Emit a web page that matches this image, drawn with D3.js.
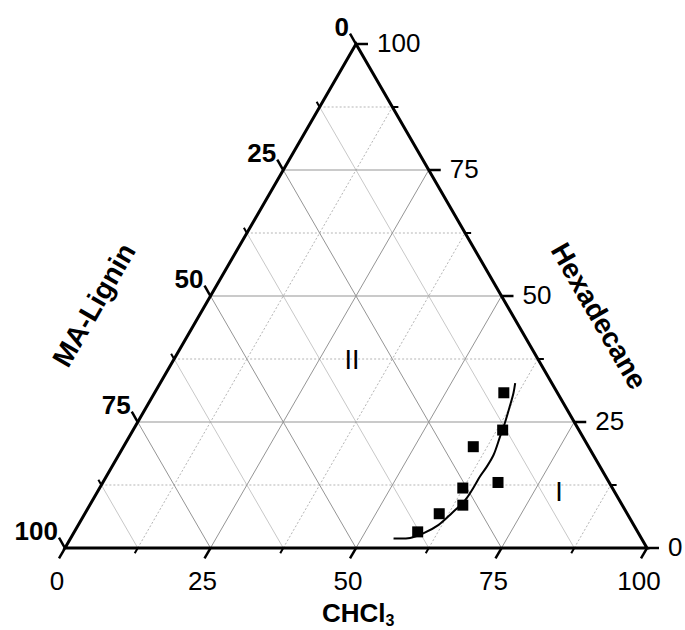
<!DOCTYPE html>
<html>
<head>
<meta charset="utf-8">
<script src="https://cdn.jsdelivr.net/npm/d3@7"></script>
<style>
  body { margin: 0; background: #fff; }
  svg { display: block; font-family: "Liberation Sans", Arial, sans-serif; }
</style>
</head>
<body>
<script>
// ternary axes: CHCl3 (bottom), Hexadecane (right), MA-Lignin (left)
const majorTicks = [0, 25, 50, 75, 100];
const minorTicks = [12.5, 37.5, 62.5, 87.5];
const gridMajor = [25, 50, 75];

// measured tie-line / cloud points (wt %)
const sampleCHCl3 = [60.0, 63.5, 60.1, 67.9, 62.4, 64.1, 60.9, 59.0];
const sampleHexadecane = [30.8, 23.4, 20.1, 13.0, 11.9, 8.5, 6.8, 3.2];

// binodal curve
const binodalCHCl3 = [55.5, 58.3, 60.1, 61.9, 63.0, 64.0, 64.2, 64.2, 64.4, 64.4, 63.7, 63.2, 62.4, 61.7, 61.0];
const binodalHexadecane = [1.9, 2.0, 2.9, 4.6, 6.9, 9.5, 12.5, 14.2, 16.1, 18.5, 22.1, 24.7, 28.0, 30.7, 32.7];

const width = 685, height = 630;

const svg = d3.select("body").append("svg")
    .attr("width", width)
    .attr("height", height);

// horizontal position uses a + b/2, vertical uses b
const px = d3.scaleLinear().domain([0, 100]).range([65, 647]);
const py = d3.scaleLinear().domain([0, 100]).range([548, 44]);
const pos = (a, b) => [px(a + b / 2), py(b)];

const grid = svg.append("g").attr("class", "grid");

function gridLine(p1, p2, cls){
    const l = grid.append("line")
        .attr("x1", p1[0]).attr("y1", p1[1])
        .attr("x2", p2[0]).attr("y2", p2[1]);
    if (cls == "major") l.attr("stroke", "#959595").attr("stroke-width", 1);
    else if (cls == "minorSolid") l.attr("stroke", "#c8c8c8").attr("stroke-width", 1);
    else l.attr("stroke", "#b5b5b5").attr("stroke-width", 1).attr("stroke-dasharray", "2,2");
}

// minor first so majors sit on top
minorTicks.forEach(v => {
    gridLine(pos(v, 0), pos(v, 100 - v), "dotted");          // CHCl3 = v
    gridLine(pos(0, v), pos(100 - v, v), "dotted");          // Hexadecane = v
    gridLine(pos(100 - v, 0), pos(0, 100 - v), "minorSolid"); // MA-Lignin = v
});
gridMajor.forEach(v => {
    gridLine(pos(v, 0), pos(v, 100 - v), "major");
    gridLine(pos(0, v), pos(100 - v, v), "major");
    gridLine(pos(100 - v, 0), pos(0, 100 - v), "major");
});

// frame
const frame = [pos(0, 0), pos(100, 0), pos(0, 100)];
svg.append("polygon")
    .attr("points", frame.map(p => p.join(",")).join(" "))
    .attr("fill", "none")
    .attr("stroke", "#000")
    .attr("stroke-width", 3)
    .attr("stroke-linejoin", "miter");

// ticks
const s60 = Math.sqrt(3) / 2;
const axes = [
    {name: "bottom", at: v => pos(v, 0), dir: [-0.5, s60]},
    {name: "right", at: v => pos(100 - v, v), dir: [1, 0]},
    {name: "left", at: v => pos(0, 100 - v), dir: [-0.5, -s60]}
];
const ticks = svg.append("g").attr("class", "ticks");
axes.forEach(ax => {
    majorTicks.forEach(v => {
        const p = ax.at(v);
        ticks.append("line")
            .attr("x1", p[0]).attr("y1", p[1])
            .attr("x2", p[0] + ax.dir[0] * 12).attr("y2", p[1] + ax.dir[1] * 12)
            .attr("stroke", "#000").attr("stroke-width", 2.5);
    });
    minorTicks.forEach(v => {
        const p = ax.at(v);
        ticks.append("line")
            .attr("x1", p[0]).attr("y1", p[1])
            .attr("x2", p[0] + ax.dir[0] * 6).attr("y2", p[1] + ax.dir[1] * 6)
            .attr("stroke", "#000").attr("stroke-width", 2);
    });
});

// tick labels
const labels = svg.append("g").attr("class", "tick-labels");
majorTicks.forEach(v => {
    const pb = axes[0].at(v);
    labels.append("text")
        .attr("x", pb[0] - 8).attr("y", pb[1] + 42)
        .attr("text-anchor", "middle")
        .attr("font-size", 26)
        .text(v);

    const pr = axes[1].at(v);
    labels.append("text")
        .attr("x", pr[0] + 21).attr("y", pr[1] + 8)
        .attr("text-anchor", "start")
        .attr("font-size", 26)
        .text(v);

    const pl = axes[2].at(v);
    labels.append("text")
        .attr("x", pl[0] - 7).attr("y", pl[1] - 8)
        .attr("text-anchor", "end")
        .attr("font-size", 26)
        .attr("font-weight", "bold")
        .text(v);
});

// axis titles
const title = svg.append("text")
    .attr("x", 322).attr("y", 622)
    .attr("font-size", 26)
    .attr("font-weight", "bold");
title.append("tspan").text("CHCl");
title.append("tspan").attr("dy", 4).attr("font-size", 16).text("3");

svg.append("text")
    .attr("transform", "translate(94,305) rotate(-60)")
    .attr("text-anchor", "middle")
    .attr("dominant-baseline", "central")
    .attr("font-size", 28)
    .attr("font-weight", "bold")
    .text("MA-Lignin");

svg.append("text")
    .attr("transform", "translate(599,316) rotate(60)")
    .attr("text-anchor", "middle")
    .attr("dominant-baseline", "central")
    .attr("font-size", 28)
    .attr("font-weight", "bold")
    .text("Hexadecane");

// region labels
svg.append("text")
    .attr("x", 352).attr("y", 369)
    .attr("text-anchor", "middle")
    .attr("font-size", 27)
    .text("II");
svg.append("text")
    .attr("x", 559).attr("y", 501)
    .attr("text-anchor", "middle")
    .attr("font-size", 27)
    .text("I");

// binodal curve
const curveData = binodalCHCl3.map((a, i) => pos(a, binodalHexadecane[i]));
svg.append("path")
    .datum(curveData)
    .attr("d", d3.line().curve(d3.curveCatmullRom))
    .attr("fill", "none")
    .attr("stroke", "#000")
    .attr("stroke-width", 2);

// sample points
const sq = 11;
svg.append("g").selectAll("rect")
    .data(sampleCHCl3.map((a, i) => pos(a, sampleHexadecane[i])))
    .join("rect")
    .attr("x", d => d[0] - sq / 2)
    .attr("y", d => d[1] - sq / 2)
    .attr("width", sq)
    .attr("height", sq)
    .attr("fill", "#000");
</script>
</body>
</html>
